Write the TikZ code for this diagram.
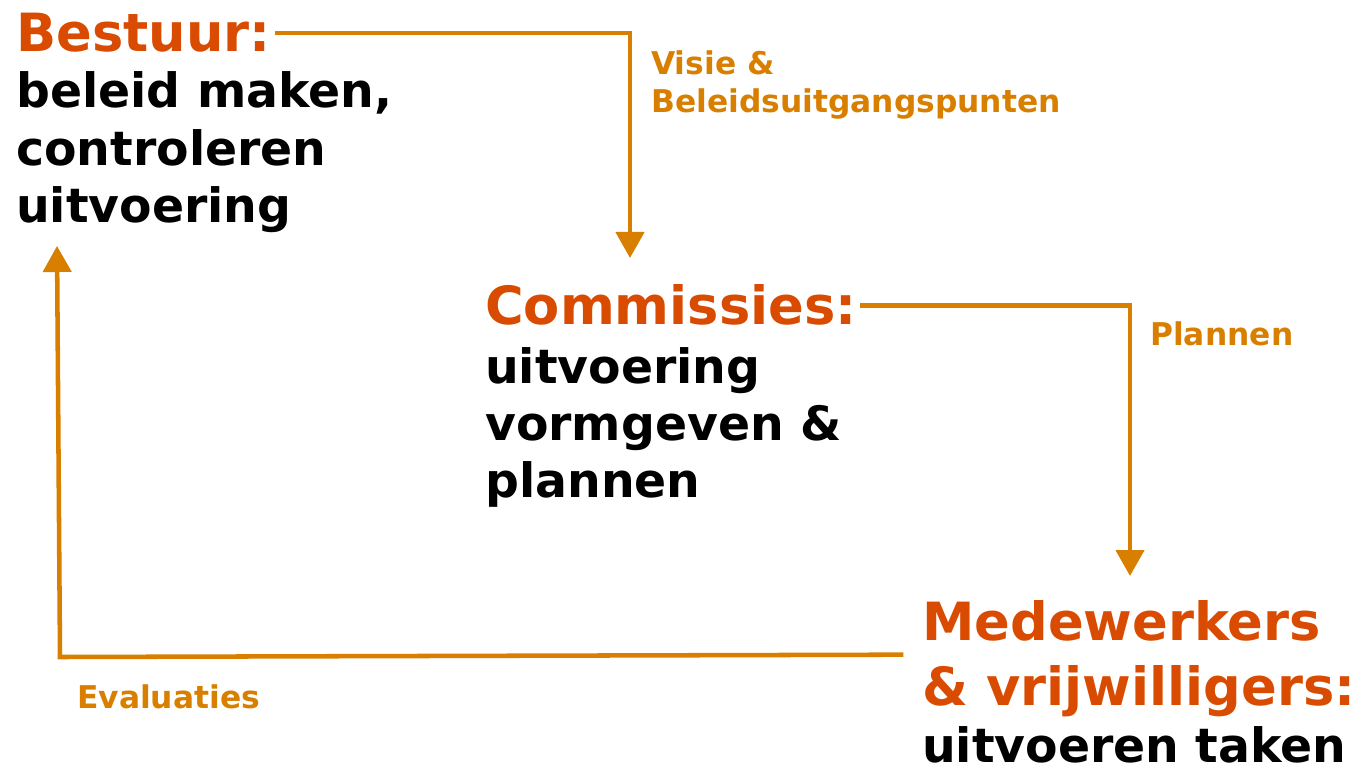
\documentclass[tikz,border=0pt]{standalone}
\usepackage{fontspec}
\setmainfont{DejaVu Sans}
\usetikzlibrary{arrows.meta}
\definecolor{kopkleur}{RGB}{217,75,0}
\definecolor{pijlkleur}{RGB}{217,127,0}
\newcommand\regels[1]{\begin{tabular}[t]{@{}l@{}}#1\end{tabular}}
\tikzset{
  kop/.style={anchor=base west, inner sep=0pt, text=kopkleur,
    font=\bfseries\fontsize{39.5}{43}\selectfont},
  tekst/.style={anchor=base west, inner sep=0pt,
    font=\bfseries\fontsize{35.5}{43}\selectfont},
  pijltekst/.style={anchor=base west, inner sep=0pt, text=pijlkleur,
    font=\bfseries\fontsize{23.5}{28}\selectfont},
  stroom/.style={draw=pijlkleur, line width=3.4pt,
    -{Triangle[length=19.5pt,width=21pt]}}
}
\begin{document}
\begin{tikzpicture}[x=0.75pt,y=-0.75pt] %Bestuur, commissies en medewerkers
            \useasboundingbox (0,0) rectangle (1366,766);

            \coordinate (commtip) at (630,258);
            \coordinate (medtip) at (1130,576);
            \coordinate (evalhoek) at (60,657);
            \coordinate (bestuurtip) at (57,246);

            \node[kop] (bestuur) at (16,52) {Bestuur:};
            \node[tekst] (bestuurtaak) at (16,108) {\regels{beleid maken,\\controleren\\uitvoering}};

            \node[kop] (commissies) at (485,325) {Commissies:};
            \node[tekst] (commtaak) at (485,383) {\regels{uitvoering\\vormgeven \&\\plannen}};

            \node[kop] (medewerkers) at (922,640) {\regels{Medewerkers\\[5.75pt]\& vrijwilligers:}};
            \node[tekst] (medtaak) at (922,762) {uitvoeren taken};

            \coordinate (evalstart) at ([xshift=-14pt,yshift=-11pt]medewerkers.base west);

            \draw[stroom] ([xshift=3pt]bestuur.east) -| (commtip);
            \draw[stroom] ([xshift=2pt]commissies.east) -| (medtip);
            \draw[stroom] (evalstart) -- (evalhoek) -- (bestuurtip);

            \node[pijltekst] (visie) at (651,75) {\regels{Visie \&\\Beleidsuitgangspunten}};
            \node[pijltekst] (plannen) at (1150,345) {Plannen};
            \node[pijltekst] (evaluaties) at (77,708) {Evaluaties};
        \end{tikzpicture}
\end{document}
